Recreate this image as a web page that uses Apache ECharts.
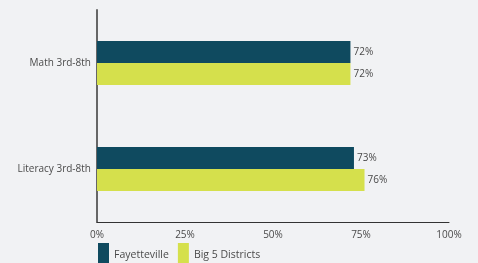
<!DOCTYPE html>
<html lang="en">
<head>
    <meta charset="UTF-8">
    <title>Proficiency</title>
    <script src="https://cdn.jsdelivr.net/npm/echarts@6/dist/echarts.min.js"></script>
    <style>
        html, body { margin: 0; padding: 0; background: #f1f2f4; }
        #container { width: 478px; height: 263px; }
    </style>
</head>
<body>
<div id="container"></div>
<script type="text/javascript">
    // categories top to bottom
    var categories = ['Math 3rd-8th', 'Literacy 3rd-8th'];
    var seriesNames = ['Fayetteville', 'Big 5 Districts'];
    var fayetteville = [72, 73];
    var big5 = [72, 76];
    var xTicks = [0, 25, 50, 75, 100];

    var textColor = '#4a4a4a';
    var fontFam = '"Open Sans", "Noto Sans", sans-serif';

    var myChart = echarts.init(document.getElementById('container'));

    function barSeries(name, data, color) {
        return {
            name: name,
            type: 'bar',
            data: data,
            barWidth: 22,
            barGap: '0%',
            itemStyle: { color: color },
            label: {
                show: true,
                position: 'right',
                distance: 3,
                color: textColor,
                fontSize: 10,
                fontFamily: fontFam,
                formatter: '{c}%'
            }
        };
    }

    var option = {
        backgroundColor: '#f1f2f4',
        animation: false,
        grid: { left: 97, right: 29, top: 10, bottom: 41 },
        legend: {
            left: 98,
            top: 243,
            padding: 0,
            itemWidth: 11,
            itemHeight: 24,
            itemGap: 9,
            icon: 'rect',
            textStyle: { color: textColor, fontSize: 10.5, fontFamily: fontFam },
            data: seriesNames
        },
        xAxis: {
            type: 'value',
            min: xTicks[0],
            max: xTicks[xTicks.length - 1],
            interval: 25,
            axisLine: { show: true, lineStyle: { color: '#333', width: 1 } },
            axisTick: { show: false },
            splitLine: { show: false },
            axisLabel: { color: textColor, fontSize: 10, fontFamily: fontFam, margin: 8, formatter: '{value}%' }
        },
        yAxis: {
            type: 'category',
            inverse: true,
            data: categories,
            axisLine: { show: true, lineStyle: { color: '#666', width: 2 } },
            axisTick: { show: false },
            axisLabel: { color: textColor, fontSize: 10, fontFamily: fontFam, margin: 6 }
        },
        series: [
            barSeries(seriesNames[0], fayetteville, '#0f4a5f'),
            barSeries(seriesNames[1], big5, '#d5e04c')
        ]
    };

    myChart.setOption(option);
</script>
</body>
</html>
